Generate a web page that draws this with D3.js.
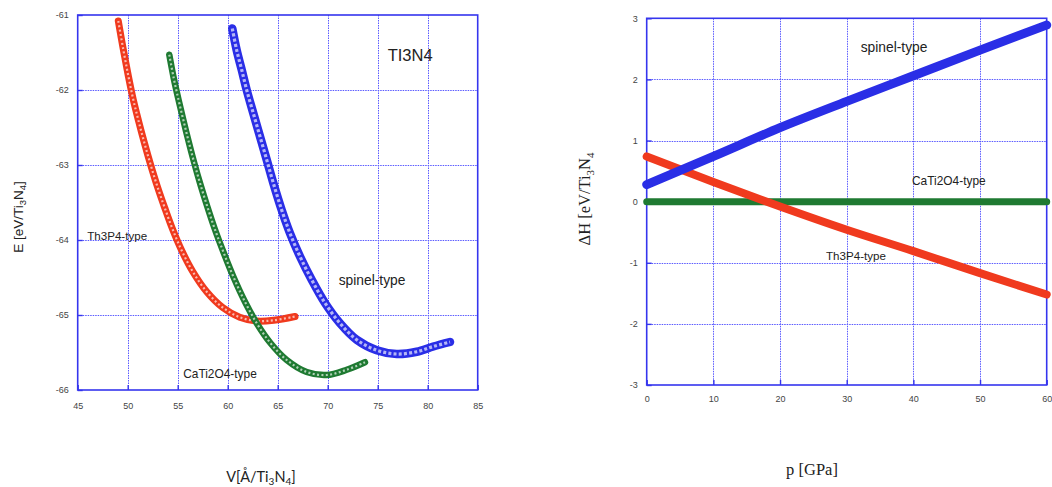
<!DOCTYPE html>
<html lang="en">
<head>
<meta charset="UTF-8">
<title>Ti3N4 E(V) and enthalpy</title>
<script src="https://d3js.org/d3.v7.min.js"></script>
<style>
  body { margin: 0; background: #fff; }
  svg { display: block; }
  .tick text { font-family: "Liberation Sans", Arial, sans-serif; font-size: 9px; fill: #444; }
  .lbl { fill: #222; }
</style>
</head>
<body>
<svg id="chart" width="1052" height="487"></svg>
<script>
// --- left panel: E(V) ---
const volTicks = [45, 50, 55, 60, 65, 70, 75, 80, 85];
const energyTicks = [-61, -62, -63, -64, -65, -66];

const th3p4V = [49.06, 49.56, 50.06, 50.56, 51.1, 51.7, 52.3, 52.95, 53.7, 54.5, 55.4, 56.5, 57.9, 59.5, 61.2, 62.9, 64.6, 66.73];
const th3p4E = [-61.08, -61.46, -61.81, -62.13, -62.42, -62.72, -63.0, -63.28, -63.57, -63.86, -64.14, -64.42, -64.69, -64.9, -65.03, -65.08, -65.07, -65.02];

const cati2o4V = [54.16, 54.6, 55.1, 55.6, 56.1, 56.65, 57.25, 57.95, 58.7, 59.6, 60.6, 61.75, 62.95, 64.25, 65.9, 67.9, 69.9, 71.9, 73.73];
const cati2o4E = [-61.53, -61.84, -62.14, -62.42, -62.69, -62.97, -63.25, -63.55, -63.85, -64.17, -64.5, -64.83, -65.12, -65.37, -65.6, -65.76, -65.8, -65.73, -65.63];

const spinelV = [60.46, 60.9, 61.4, 61.9, 62.56, 63.23, 63.9, 64.56, 65.4, 66.23, 67.23, 68.4, 69.73, 71.23, 72.9, 74.9, 76.9, 78.9, 80.56, 82.23];
const spinelE = [-61.18, -61.47, -61.73, -62.0, -62.31, -62.62, -62.93, -63.24, -63.6, -63.91, -64.22, -64.53, -64.84, -65.11, -65.33, -65.47, -65.52, -65.49, -65.42, -65.36];

// --- right panel: ΔH(p) ---
const pTicks = [0, 10, 20, 30, 40, 50, 60];
const dhTicks = [3, 2, 1, 0, -1, -2, -3];
const pressure = [0, 10, 20, 30, 40, 50, 60];
const spinelH = [0.28, 0.74, 1.21, 1.64, 2.06, 2.48, 2.89];
const th3p4H = [0.74, 0.32, -0.08, -0.46, -0.81, -1.17, -1.52];
const cati2o4H = [0, 0, 0, 0, 0, 0, 0];

const RED = "#f03a1e", GREEN = "#1f7a32", BLUE = "#2a2ee6";
const FRAME = "#3535ee", GRID = "#5a5aff";
const SANS = "'Liberation Sans', Arial, sans-serif";
const SERIF = "'Liberation Serif', 'DejaVu Serif', serif";

const svg = d3.select("#chart");

function panel(x, y, xTicks, yTicks, box, labelGap) {
  const g = svg.append("g");
  // dotted grid
  g.selectAll(".gx").data(xTicks.slice(1, -1)).join("line")
    .attr("x1", d => Math.round(x(d)) + 0.5).attr("x2", d => Math.round(x(d)) + 0.5)
    .attr("y1", box.top).attr("y2", box.bottom)
    .attr("stroke", GRID).attr("stroke-width", 1).attr("stroke-dasharray", "1.5,1");
  g.selectAll(".gy").data(yTicks.slice(1, -1)).join("line")
    .attr("x1", box.left).attr("x2", box.right)
    .attr("y1", d => Math.round(y(d)) + 0.5).attr("y2", d => Math.round(y(d)) + 0.5)
    .attr("stroke", GRID).attr("stroke-width", 1).attr("stroke-dasharray", "1.5,1");
  // axes, ticks pointing in
  const ax = g.append("g").attr("transform", `translate(0,${box.bottom})`)
    .call(d3.axisBottom(x).tickValues(xTicks).tickSize(-5).tickPadding(labelGap.x).tickFormat(d => String(d)));
  const ay = g.append("g").attr("transform", `translate(${box.left},0)`)
    .call(d3.axisLeft(y).tickValues(yTicks).tickSize(-5).tickPadding(labelGap.y).tickFormat(d => String(d)));
  [ax, ay].forEach(a => {
    a.select(".domain").remove();
    a.selectAll(".tick line").attr("stroke", FRAME).attr("stroke-width", 1.4);
  });
  g.append("rect").attr("x", box.left).attr("y", box.top)
    .attr("width", box.right - box.left).attr("height", box.bottom - box.top)
    .attr("fill", "none").attr("stroke", FRAME).attr("stroke-width", 1.6);
  return g;
}

function label(g, x, y, size, txt, font) {
  return g.append("text").attr("class", "lbl").attr("x", x).attr("y", y)
    .style("font-family", font || SANS).style("font-size", size + "px").text(txt);
}

// ---------- left ----------
const L = { left: 77.7, right: 477.7, top: 15, bottom: 390 };
const xV = d3.scaleLinear().domain([45, 85]).range([L.left, L.right]);
const yE = d3.scaleLinear().domain([-66, -61]).range([L.bottom, L.top]);
const gl = panel(xV, yE, volTicks, energyTicks, L, { x: 13, y: 9 });

const lineE = d3.line().x(d => xV(d[0])).y(d => yE(d[1])).curve(d3.curveCatmullRom);

// thick coloured stroke with a dashed light core, looks like a chain of open markers
function markerCurve(vs, es, color, w, inner, dash) {
  const pts = vs.map((v, i) => [v, es[i]]);
  gl.append("path").attr("d", lineE(pts)).attr("fill", "none")
    .attr("stroke", color).attr("stroke-width", w).attr("stroke-linecap", "round");
  gl.append("path").attr("d", lineE(pts)).attr("fill", "none")
    .attr("stroke", "#fff").attr("stroke-opacity", 0.65)
    .attr("stroke-width", inner).attr("stroke-dasharray", dash);
}
markerCurve(th3p4V, th3p4E, RED, 7, 2.2, "2,2.4");
markerCurve(cati2o4V, cati2o4E, GREEN, 6.5, 2.2, "2,2.4");
markerCurve(spinelV, spinelE, BLUE, 8.5, 3.2, "3,2.2");

label(gl, xV(76.0), yE(-61.61), 16.5, "TI3N4");
label(gl, xV(45.95), yE(-64.0), 11.6, "Th3P4-type");
label(gl, xV(71.1), yE(-64.6), 13.8, "spinel-type");
label(gl, xV(55.55), yE(-65.84), 11.9, "CaTi2O4-type");

// axis titles (left)
const ty = svg.append("text").attr("class", "lbl")
  .attr("transform", "translate(23,217) rotate(-90)")
  .attr("text-anchor", "middle").style("font-family", SANS).style("font-size", "13.5px");
ty.append("tspan").text("E [eV/Ti");
ty.append("tspan").style("font-size", "9.5px").attr("dy", 3).text("3");
ty.append("tspan").attr("dy", -3).text("N");
ty.append("tspan").style("font-size", "9.5px").attr("dy", 3).text("4");
ty.append("tspan").attr("dy", -3).text("]");

const tx = svg.append("text").attr("class", "lbl")
  .attr("x", 261).attr("y", 482).attr("text-anchor", "middle")
  .style("font-family", "Lato, 'Open Sans', sans-serif").style("font-size", "14.5px");
tx.append("tspan").text("V[Å/Ti");
tx.append("tspan").style("font-size", "10px").attr("dy", 3).text("3");
tx.append("tspan").attr("dy", -3).text("N");
tx.append("tspan").style("font-size", "10px").attr("dy", 3).text("4");
tx.append("tspan").attr("dy", -3).text("]");

// ---------- right ----------
const R = { left: 646.7, right: 1046.7, top: 18.3, bottom: 385 };
const xP = d3.scaleLinear().domain([0, 60]).range([R.left, R.right]);
const yH = d3.scaleLinear().domain([-3, 3]).range([R.bottom, R.top]);
const gr = panel(xP, yH, pTicks, dhTicks, R, { x: 11, y: 9 });

const lineH = d3.line().x((d, i) => xP(pressure[i])).y(d => yH(d)).curve(d3.curveMonotoneX);
[[cati2o4H, GREEN, 7], [th3p4H, RED, 8], [spinelH, BLUE, 9]].forEach(([vals, c, w]) => {
  gr.append("path").attr("d", lineH(vals)).attr("fill", "none")
    .attr("stroke", c).attr("stroke-width", w).attr("stroke-linecap", "round");
});

label(gr, xP(32.1), yH(2.45), 13.8, "spinel-type");
label(gr, xP(39.8), yH(0.28), 11.9, "CaTi2O4-type");
label(gr, xP(26.9), yH(-0.95), 11.6, "Th3P4-type");

const hy = svg.append("text").attr("class", "lbl")
  .attr("transform", "translate(590,199) rotate(-90)")
  .attr("text-anchor", "middle").style("font-family", SERIF).style("font-size", "16.5px");
hy.append("tspan").text("ΔH [eV/Ti");
hy.append("tspan").style("font-size", "11px").attr("dy", 4).text("3");
hy.append("tspan").attr("dy", -4).text("N");
hy.append("tspan").style("font-size", "11px").attr("dy", 4).text("4");

label(svg, 812, 475, 16.5, "p [GPa]", SERIF).attr("text-anchor", "middle");
</script>
</body>
</html>
